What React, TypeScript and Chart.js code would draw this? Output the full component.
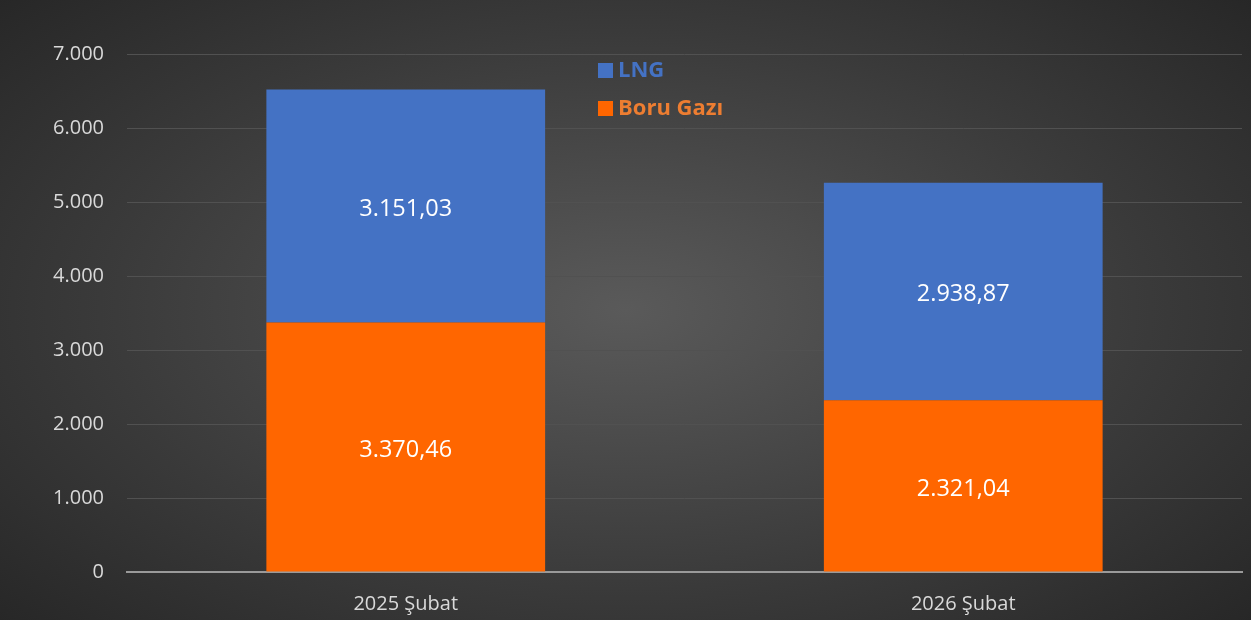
import React, { useEffect, useRef } from "react";
import { Chart, registerables } from "chart.js";

Chart.register(...registerables);

const categories = ["2025 Şubat", "2026 Şubat"];
const boruGaziValues = [3370.46, 2321.04];
const lngValues = [3151.03, 2938.87];
const seriesNames = ["Boru Gazı", "LNG"];
const yTickMax = 7000;
const yTickStep = 1000;

const FONT = "'Open Sans', 'Noto Sans', sans-serif";

function formatTR(v: number, decimals: number): string {
  const fixed = Math.abs(v).toFixed(decimals);
  const [intPart, decPart] = fixed.split(".");
  const withDots = intPart.replace(/\B(?=(\d{3})+(?!\d))/g, ".");
  return (v < 0 ? "-" : "") + withDots + (decPart ? "," + decPart : "");
}

const dataLabelPlugin = {
  id: "dataLabels",
  afterDatasetsDraw(chart: any) {
    const ctx = chart.ctx;
    ctx.save();
    ctx.fillStyle = "#ffffff";
    ctx.font = `23.5px ${FONT}`;
    ctx.textAlign = "center";
    ctx.textBaseline = "middle";
    chart.data.datasets.forEach((ds: any, di: number) => {
      const meta = chart.getDatasetMeta(di);
      meta.data.forEach((el: any, i: number) => {
        const y = (el.y + el.base) / 2 + 3;
        ctx.fillText(formatTR(ds.data[i], 2), el.x, y);
      });
    });
    ctx.restore();
  },
};

const customLegendPlugin = {
  id: "customLegend",
  afterDraw(chart: any) {
    const ctx = chart.ctx;
    ctx.save();
    const items = [
      { text: seriesNames[1], box: "#4472C4", color: "#4472C4", y: 70 },
      { text: seriesNames[0], box: "#FF6600", color: "#ED7D31", y: 108 },
    ];
    ctx.font = `bold 22px ${FONT}`;
    ctx.textBaseline = "middle";
    ctx.textAlign = "left";
    items.forEach((it) => {
      ctx.fillStyle = it.box;
      ctx.fillRect(598, it.y - 7, 15, 15);
      ctx.fillStyle = it.color;
      ctx.fillText(it.text, 618, it.y + 1);
    });
    ctx.restore();
  },
};

export default function App() {
  const canvasRef = useRef<HTMLCanvasElement | null>(null);

  useEffect(() => {
    document.body.style.margin = "0";
    const canvas = canvasRef.current;
    if (!canvas) return;
    const chart = new Chart(canvas, {
      type: "bar",
      data: {
        labels: categories,
        datasets: [
          {
            label: seriesNames[0],
            data: boruGaziValues,
            backgroundColor: "#FF6600",
            barPercentage: 1,
            categoryPercentage: 0.5,
          },
          {
            label: seriesNames[1],
            data: lngValues,
            backgroundColor: "#4472C4",
            barPercentage: 1,
            categoryPercentage: 0.5,
          },
        ],
      },
      options: {
        animation: false,
        responsive: false,
        maintainAspectRatio: false,
        layout: { padding: { top: 54, right: 9, left: 0, bottom: 0 } },
        plugins: {
          legend: { display: false },
          tooltip: { enabled: false },
        },
        scales: {
          x: {
            stacked: true,
            grid: { display: false, drawTicks: false },
            border: { display: true, color: "#9a9a9a", width: 2 },
            ticks: {
              color: "#d9d9d9",
              font: { family: FONT, size: 20 },
              padding: 20,
            },
            afterFit(scale: any) {
              scale.height = 48;
            },
          },
          y: {
            stacked: true,
            min: 0,
            max: yTickMax,
            grid: { color: "#515151", lineWidth: 1, drawTicks: false },
            border: { display: false },
            ticks: {
              stepSize: yTickStep,
              color: "#d9d9d9",
              font: { family: FONT, size: 20 },
              padding: 23,
              callback: (v: any) => formatTR(Number(v), 0),
            },
            afterFit(scale: any) {
              scale.width = 127;
            },
          },
        },
      },
      plugins: [dataLabelPlugin, customLegendPlugin],
    });
    return () => chart.destroy();
  }, []);

  return (
    <div
      style={{
        width: 1251,
        height: 620,
        background:
          "radial-gradient(ellipse 70% 75% at 50% 50%, #5a5a5a 0%, #3a3a3a 60%, #262626 100%)",
      }}
    >
      <canvas ref={canvasRef} width={1251} height={620} style={{ display: "block" }} />
    </div>
  );
}
